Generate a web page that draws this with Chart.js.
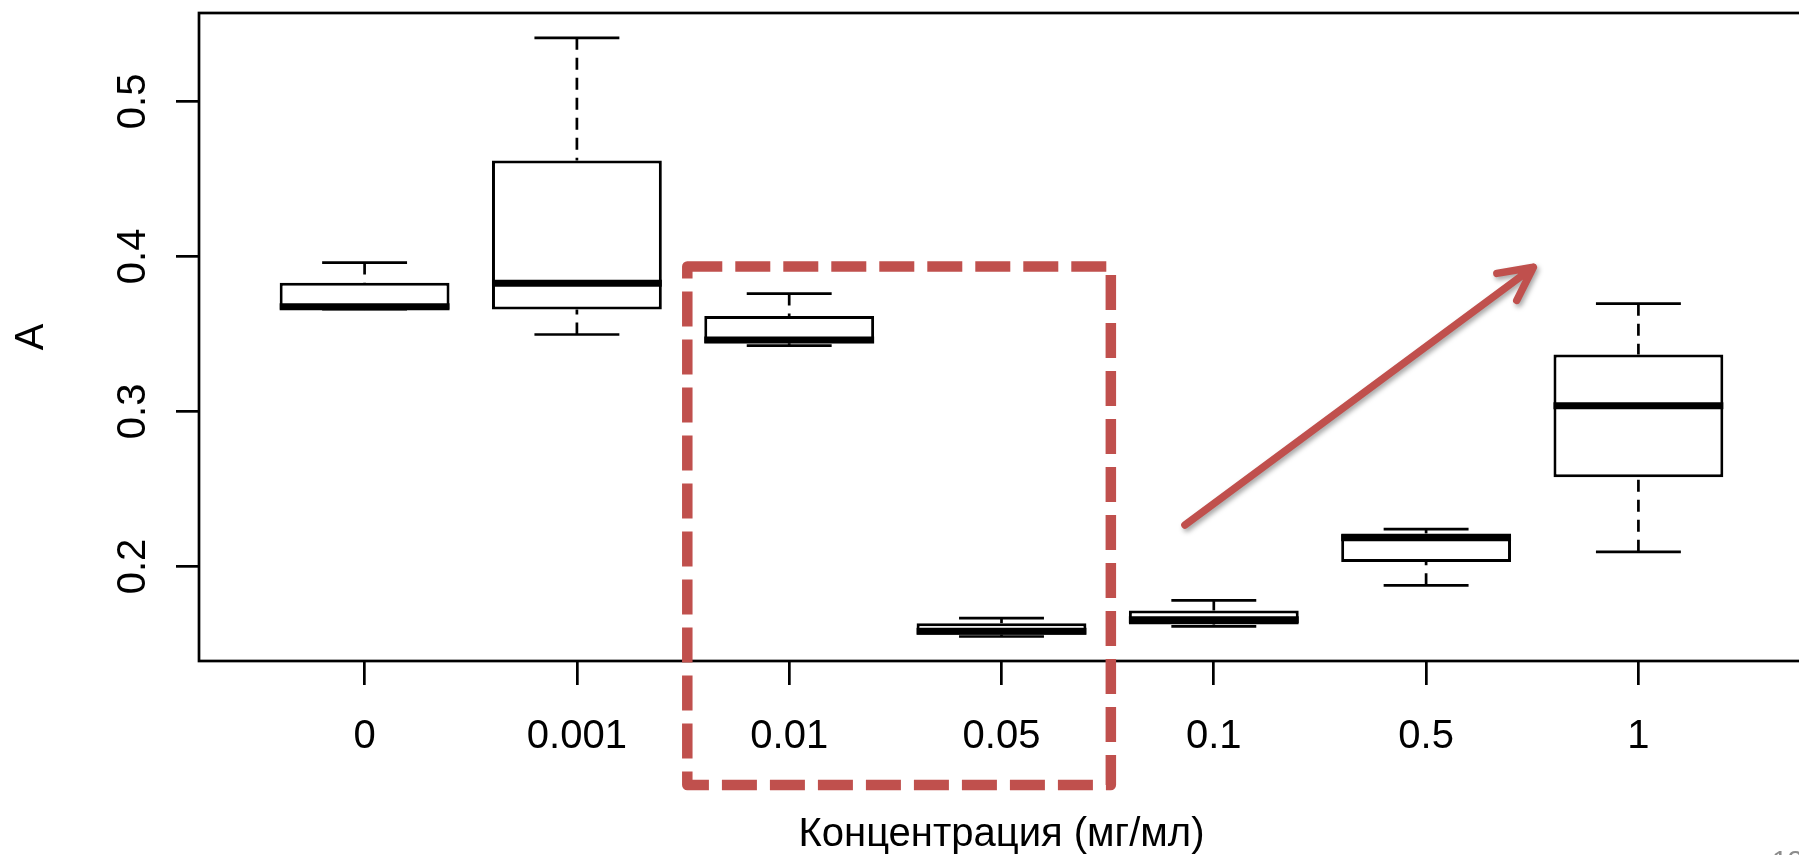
<!DOCTYPE html>
<html>
<head>
<meta charset="utf-8">
<script src="https://cdn.jsdelivr.net/npm/chart.js@4.4.1/dist/chart.umd.min.js"></script>
<style>
  html, body { margin: 0; padding: 0; background: #fff; overflow: hidden; }
  canvas { display: block; }
</style>
</head>
<body>
<canvas id="grafico" width="1810" height="855"></canvas>
<script>
const categorias = ['0', '0.001', '0.01', '0.05', '0.1', '0.5', '1'];
const minimos  = [0.366, 0.3496, 0.3425, 0.1548, 0.1613, 0.1878, 0.2094];
const cuartil1 = [0.366, 0.3658, 0.3440, 0.1560, 0.1626, 0.2029, 0.2575];
const medianas = [0.3675, 0.3827, 0.3460, 0.1582, 0.1656, 0.2185, 0.3037];
const cuartil3 = [0.383, 0.4618, 0.3615, 0.1634, 0.1716, 0.2213, 0.3367];
const maximos  = [0.396, 0.541, 0.376, 0.1667, 0.1781, 0.2241, 0.3695];
const ticksY = [0.2, 0.3, 0.4, 0.5];

const fuente = "'Liberation Sans', Arial, sans-serif";
const rojo = '#C0504D';

function linea(ctx, x1, y1, x2, y2) {
    ctx.beginPath();
    ctx.moveTo(x1, y1);
    ctx.lineTo(x2, y2);
    ctx.stroke();
}

// bigotes, medianas, marco y anotaciones
const cajasPlugin = {
    id: 'cajas',
    beforeDatasetsDraw(chart) {
        const { ctx, scales: { x, y } } = chart;
        const barras = chart.getDatasetMeta(0).data;
        ctx.save();
        ctx.strokeStyle = '#000';
        ctx.lineWidth = 2.7;
        categorias.forEach((c, i) => {
            const px = barras[i].x;
            const mitad = barras[i].width / 4;
            ctx.setLineDash([12, 8]);
            linea(ctx, px, y.getPixelForValue(maximos[i]), px, y.getPixelForValue(cuartil3[i]));
            linea(ctx, px, y.getPixelForValue(minimos[i]), px, y.getPixelForValue(cuartil1[i]));
            ctx.setLineDash([]);
            linea(ctx, px - mitad, y.getPixelForValue(maximos[i]), px + mitad, y.getPixelForValue(maximos[i]));
            linea(ctx, px - mitad, y.getPixelForValue(minimos[i]), px + mitad, y.getPixelForValue(minimos[i]));
        });
        ctx.restore();
    },
    afterDatasetsDraw(chart) {
        const { ctx, chartArea, scales: { x, y } } = chart;
        const barras = chart.getDatasetMeta(0).data;
        ctx.save();
        // medianas gruesas
        ctx.strokeStyle = '#000';
        ctx.lineWidth = 7;
        ctx.lineCap = 'butt';
        categorias.forEach((c, i) => {
            const py = y.getPixelForValue(medianas[i]);
            linea(ctx, barras[i].x - barras[i].width / 2, py, barras[i].x + barras[i].width / 2, py);
        });
        // marco del gráfico
        ctx.lineWidth = 2.7;
        ctx.strokeRect(chartArea.left, chartArea.top, chartArea.right - chartArea.left, chartArea.bottom - chartArea.top);
        ctx.restore();
    },
    afterDraw(chart) {
        const { ctx, chartArea, scales: { x, y } } = chart;
        ctx.save();
        // rectángulo rojo punteado
        const rx1 = x.getPixelForValue(2.52), rx2 = x.getPixelForValue(4.515);
        const ry1 = y.getPixelForValue(0.3935), ry2 = chartArea.bottom + 124;
        ctx.strokeStyle = rojo;
        ctx.lineWidth = 10.5;
        ctx.lineJoin = 'round';
        ctx.setLineDash([35, 13]);
        ctx.beginPath();
        ctx.moveTo(rx1, ry1);
        ctx.lineTo(rx2, ry1);
        ctx.lineTo(rx2, ry2);
        ctx.lineTo(rx1, ry2);
        ctx.closePath();
        ctx.stroke();
        ctx.setLineDash([]);

        // flecha con sombra
        const ax1 = x.getPixelForValue(4.864), ay1 = y.getPixelForValue(0.2267);
        const ax2 = x.getPixelForValue(6.505), ay2 = y.getPixelForValue(0.393);
        const ang = Math.atan2(ay1 - ay2, ax1 - ax2);
        const largo = 37, abre = 0.47;
        ctx.shadowColor = 'rgba(0,0,0,0.35)';
        ctx.shadowBlur = 5;
        ctx.shadowOffsetX = 2;
        ctx.shadowOffsetY = 3;
        ctx.lineWidth = 7.5;
        ctx.lineCap = 'round';
        ctx.beginPath();
        ctx.moveTo(ax1, ay1);
        ctx.lineTo(ax2, ay2);
        ctx.moveTo(ax2 + largo * Math.cos(ang + abre), ay2 + largo * Math.sin(ang + abre));
        ctx.lineTo(ax2, ay2);
        ctx.lineTo(ax2 + largo * Math.cos(ang - abre), ay2 + largo * Math.sin(ang - abre));
        ctx.stroke();
        ctx.shadowColor = 'transparent';

        // número de diapositiva (cortado)
        ctx.fillStyle = '#8c8c8c';
        ctx.font = "28px " + fuente;
        ctx.textBaseline = 'alphabetic';
        ctx.fillText('12', 1772, 870);
        ctx.restore();
    }
};

function sinRelleno(scale) {
    scale.paddingTop = 0;
    scale.paddingBottom = 0;
    scale.paddingLeft = 0;
    scale.paddingRight = 0;
}

const ctx = document.getElementById('grafico').getContext('2d');
const grafico = new Chart(ctx, {
    type: 'bar',
    data: {
        datasets: [{
            label: 'A',
            data: categorias.map((c, i) => ({ x: i + 1, y: [cuartil1[i], cuartil3[i]] })),
            backgroundColor: '#ffffff',
            borderColor: '#000000',
            borderWidth: 3,
            borderSkipped: false,
            barPercentage: 0.8,
            categoryPercentage: 1
        }]
    },
    options: {
        responsive: false,
        animation: false,
        layout: { padding: { top: 13, right: 6, left: 0, bottom: 0 } },
        plugins: {
            legend: { display: false },
            tooltip: { enabled: false }
        },
        scales: {
            x: {
                type: 'linear',
                offset: false,
                min: 0.22,
                max: 7.78,
                afterBuildTicks: scale => { scale.ticks = categorias.map((c, i) => ({ value: i + 1 })); },
                afterFit: scale => { scale.height = 194; sinRelleno(scale); },
                ticks: {
                    callback: v => categorias[Math.round(v) - 1],
                    font: { family: fuente, size: 40 },
                    color: '#000',
                    padding: 28,
                    maxRotation: 0,
                    autoSkip: false
                },
                grid: { display: true, offset: false, drawOnChartArea: false, drawTicks: true, tickLength: 24, color: '#000', lineWidth: 2.7 },
                border: { display: false },
                title: {
                    display: true,
                    text: 'Концентрация (мг/мл)',
                    color: '#000',
                    font: { family: fuente, size: 40, lineHeight: 1.0 },
                    padding: { top: 0, bottom: 0 }
                }
            },
            y: {
                min: 0.139,
                max: 0.557,
                afterBuildTicks: scale => { scale.ticks = ticksY.map(v => ({ value: v })); },
                afterFit: scale => { scale.width = 199; sinRelleno(scale); },
                ticks: {
                    callback: v => v.toFixed(1),
                    font: { family: fuente, size: 40 },
                    color: '#000',
                    minRotation: 90,
                    maxRotation: 90,
                    crossAlign: 'center',
                    padding: 14
                },
                grid: { display: true, drawOnChartArea: false, drawTicks: true, tickLength: 23, color: '#000', lineWidth: 2.7 },
                border: { display: false },
                title: {
                    display: true,
                    text: 'A',
                    color: '#000',
                    font: { family: fuente, size: 40 },
                    padding: { top: 8, bottom: 0 }
                }
            }
        }
    },
    plugins: [cajasPlugin]
});
</script>
</body>
</html>
